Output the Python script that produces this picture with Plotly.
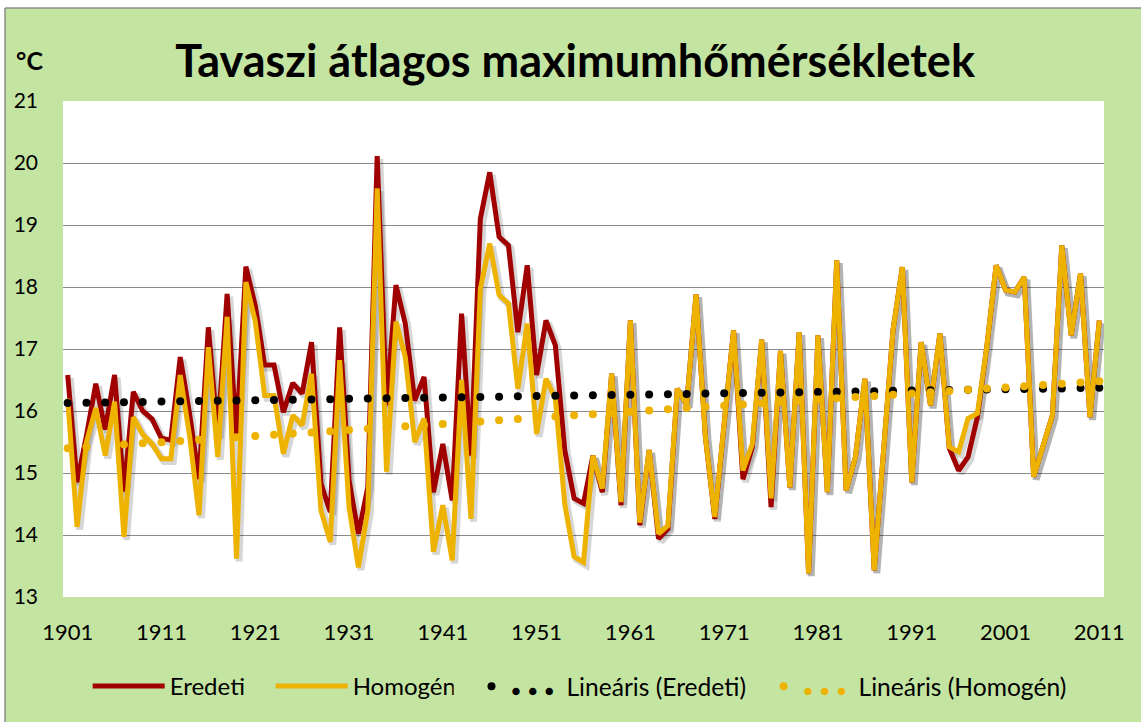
import numpy as np
import plotly.graph_objects as go

# ---------------- data ----------------
years = list(range(1901, 2012))

eredeti = [
    16.58, 14.85, 15.60, 16.44, 15.70, 16.58, 14.70, 16.31, 16.00, 15.87,
    15.56, 15.53, 16.87, 15.95, 14.90, 17.35, 15.60, 17.89, 15.60, 18.33,
    17.70, 16.74, 16.74, 15.98, 16.45, 16.28, 17.11, 14.83, 14.37, 17.35,
    14.88, 14.02, 14.77, 20.11, 16.09, 18.03, 17.41, 16.17, 16.55, 14.69,
    15.47, 14.56, 17.57, 15.28, 19.10, 19.85, 18.81, 18.67, 17.27, 18.35,
    16.58, 17.46, 17.06, 15.37, 14.59, 14.51, 15.28, 14.69, 16.60, 14.48,
    17.46, 14.16, 15.37, 13.94, 14.10, 16.36, 16.10, 17.88, 15.58, 14.26,
    15.80, 17.30, 14.90, 15.42, 17.15, 14.45, 16.97, 14.77, 17.27, 13.38,
    17.22, 14.69, 18.43, 14.72, 15.26, 16.52, 13.43, 15.30, 17.30, 18.32,
    14.85, 17.11, 16.09, 17.25, 15.40, 15.04, 15.26, 15.90, 17.03, 18.35,
    17.95, 17.92, 18.16, 14.94, 15.42, 15.93, 18.67, 17.22, 18.22, 15.90,
    17.46,
]

homogen = [
    16.20, 14.13, 15.50, 16.05, 15.28, 16.15, 13.97, 15.90, 15.62, 15.47,
    15.23, 15.23, 16.58, 15.60, 14.32, 17.03, 15.26, 17.52, 13.62, 18.08,
    17.45, 16.25, 16.25, 15.31, 15.93, 15.77, 16.60, 14.40, 13.89, 16.82,
    14.45, 13.48, 14.40, 19.59, 15.02, 17.44, 16.87, 15.50, 15.88, 13.73,
    14.48, 13.59, 16.50, 14.26, 17.97, 18.70, 17.87, 17.73, 16.36, 17.41,
    15.63, 16.52, 16.20, 14.50, 13.65, 13.56, 15.28, 14.75, 16.60, 14.53,
    17.46, 14.20, 15.37, 14.02, 14.15, 16.36, 16.10, 17.88, 15.58, 14.29,
    15.80, 17.30, 15.04, 15.47, 17.15, 14.59, 16.97, 14.77, 17.27, 13.38,
    17.22, 14.69, 18.43, 14.72, 15.26, 16.52, 13.43, 15.30, 17.30, 18.32,
    14.85, 17.11, 16.09, 17.25, 15.42, 15.34, 15.88, 15.96, 17.03, 18.35,
    17.95, 17.92, 18.16, 14.94, 15.42, 15.93, 18.67, 17.22, 18.22, 15.90,
    17.46,
]

x_tick_vals = list(range(1901, 2012, 10))
y_tick_vals = list(range(13, 22))

title_text = "Tavaszi átlagos maximumhőmérsékletek"
unit_text = "°C"
names = ["Eredeti", "Homogén", "Lineáris (Eredeti)", "Lineáris (Homogén)"]

# ---------------- styles ----------------
RED = "#A00000"
YEL = "#EEB200"
GREEN_BG = "#C4E4A2"
FONT = "Lato"
X_RANGE = [1900.5, 2011.5]
Y_RANGE = [13, 21]
# drop-shadow offset (in axis units) for the soft shadow under the data lines
SH_DX = 0.27
SH_DY = 0.045

# linear trends (least squares, as Excel's linear trendline)
yrs = np.array(years, dtype=float)
c_e = np.polyfit(yrs, np.array(eredeti), 1)
c_h = np.polyfit(yrs, np.array(homogen), 1)
trend_years = years[::2]
trend_e = list(np.polyval(c_e, np.array(trend_years, dtype=float)))
trend_h = list(np.polyval(c_h, np.array(trend_years, dtype=float)))

fig = go.Figure()
# shadows (on the hidden, slightly shifted base axes)
for ser in (eredeti, homogen):
    fig.add_trace(go.Scatter(x=years, y=ser, mode="lines", showlegend=False,
                             hoverinfo="skip", xaxis="x", yaxis="y",
                             line=dict(color="rgba(0,0,0,0.16)", width=7)))
# data lines
fig.add_trace(go.Scatter(x=years, y=eredeti, mode="lines", name=names[0],
                         xaxis="x2", yaxis="y2", legend="legend",
                         line=dict(color=RED, width=5)))
fig.add_trace(go.Scatter(x=years, y=homogen, mode="lines", name=names[1],
                         xaxis="x2", yaxis="y2", legend="legend",
                         line=dict(color=YEL, width=5)))
dots_e = '<span style="font-size:15px;color:#000000">●  ●  ●</span>  '
dots_h = '<span style="font-size:15px;color:%s">●  ●  ●</span>  ' % YEL
fig.add_trace(go.Scatter(x=trend_years, y=trend_e, mode="markers",
                         name=dots_e + names[2] + "\u00a0\u00a0", xaxis="x2", yaxis="y2",
                         legend="legend2",
                         marker=dict(color="#000000", size=8)))
fig.add_trace(go.Scatter(x=trend_years, y=trend_h, mode="markers",
                         name=dots_h + names[3], xaxis="x2", yaxis="y2",
                         legend="legend2",
                         marker=dict(color=YEL, size=8)))

fig.update_layout(
    width=1141, height=722,
    margin=dict(l=63, r=37, t=101, b=125),
    paper_bgcolor=GREEN_BG,
    plot_bgcolor="#FFFFFF",
    font=dict(family=FONT, color="#000000", size=20),
    title=dict(text="<b>" + title_text + "</b>",
               font=dict(family=FONT, size=45, color="#000000"),
               x=0.504, xref="container", xanchor="center",
               y=0.915, yref="container", yanchor="middle"),
    showlegend=True,
    legend=dict(orientation="h", x=0.0237, xanchor="left",
                y=-0.18, yanchor="middle",
                font=dict(family=FONT, size=24),
                bgcolor="rgba(0,0,0,0)", itemwidth=72, entrywidth=96),
    legend2=dict(orientation="h", x=0.3924, xanchor="left",
                 y=-0.18, yanchor="middle",
                 font=dict(family=FONT, size=24.6),
                 bgcolor="rgba(0,0,0,0)", itemwidth=30),
    xaxis=dict(range=[X_RANGE[0] - SH_DX, X_RANGE[1] - SH_DX], visible=False,
               showgrid=False, zeroline=False),
    yaxis=dict(range=[Y_RANGE[0] + SH_DY, Y_RANGE[1] + SH_DY], visible=False,
               showgrid=False, zeroline=False),
    xaxis2=dict(range=X_RANGE, overlaying="x", side="bottom",
                tickvals=x_tick_vals, ticktext=[str(v) for v in x_tick_vals],
                showgrid=False, zeroline=False, showline=False, ticks="",
                tickfont=dict(family=FONT, size=22), ticklabelstandoff=20),
    yaxis2=dict(range=Y_RANGE, overlaying="y", side="left", tickvals=y_tick_vals,
                showgrid=True, gridcolor="#8A8A8A", gridwidth=1.3,
                zeroline=False, showline=False, ticks="",
                tickfont=dict(family=FONT, size=21), ticklabelstandoff=24),
    annotations=[dict(text="<b>" + unit_text + "</b>", xref="paper", yref="paper",
                      x=-0.032, y=1.083, xanchor="center", yanchor="middle",
                      showarrow=False, font=dict(family=FONT, size=25))],
    shapes=[
        dict(type="rect", xref="paper", yref="paper", x0=-0.1, x1=1.1,
             y0=1.1875, y1=1.25, fillcolor="#FFFFFF", line=dict(width=0), layer="below"),
        dict(type="rect", xref="paper", yref="paper", x0=-0.07, x1=-0.0557,
             y0=-0.3, y1=1.25, fillcolor="#FFFFFF", line=dict(width=0), layer="below"),
        dict(type="line", xref="paper", yref="paper", x0=-0.0557, x1=1.1,
             y0=1.1875, y1=1.1875, line=dict(color="#8C8C8C", width=1.5), layer="below"),
        dict(type="line", xref="paper", yref="paper", x0=-0.0557, x1=-0.0557,
             y0=-0.3, y1=1.1875, line=dict(color="#8C8C8C", width=1.5), layer="below"),
    ],
)

fig.write_html("out.html", config={"displayModeBar": False},
               post_script="document.body.style.margin='0';document.body.style.overflow='hidden';")
